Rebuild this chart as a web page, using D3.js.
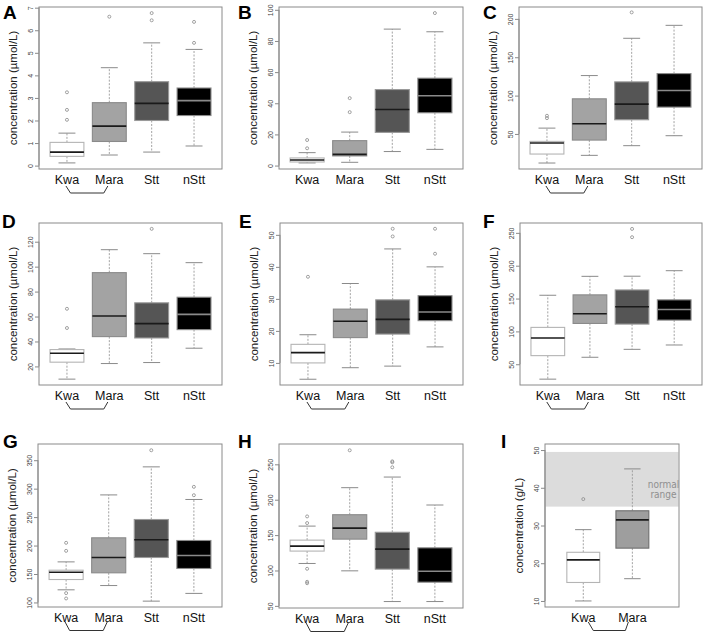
<!DOCTYPE html>
<html><head><meta charset="utf-8">
<script src="https://cdn.jsdelivr.net/npm/d3@7"></script>
<style>body{margin:0;background:#fff} svg{display:block;font-family:"Liberation Sans",Arial,sans-serif}</style>
</head><body><svg id="c" width="704" height="633"></svg>
<script>
const groups4 = ["Kwa", "Mara", "Stt", "nStt"];
const groups2 = ["Kwa", "Mara"];
// each box: [lower whisker, Q1, median, Q3, upper whisker]
const statsA = [[0.12,0.41,0.60,1.03,1.44],[0.47,1.07,1.75,2.79,4.34],[0.60,2.00,2.76,3.72,5.44],[0.87,2.22,2.88,3.44,5.15]];
const outA = [[2.03,2.47,3.25],[6.60],[6.44,6.76],[5.44,6.37]];
const statsB = [[1.7,2.3,3.6,4.9,8.3],[2.1,6.2,7.2,16,21.5],[9,21.3,36,48.8,87.6],[10.4,33.9,44.8,56.1,85.9]];
const outB = [[11.1,16.4],[34.3,43.3],[],[97.9]];
const statsC = [[12.1,23.8,38.1,40.3,57.6],[22.1,42,63.3,95.8,126.1],[34.7,68.5,88.9,117.9,174.7],[47.7,85,106.6,128.7,191.6]];
const outC = [[70.6,73.7],[],[208.5],[]];
const statsD = [[9.8,23.4,30.6,33.5,34],[22.3,43.9,60.4,95.2,113.6],[23.1,42.8,54.3,71,110.4],[34.6,49.5,61.7,75.5,103.2]];
const outD = [[50.8,66.2],[],[130.3],[]];
const statsE = [[4.9,10,13.2,15.8,18.8],[8.5,17.9,23,26.8,34.8],[9,19,23.6,29.7,45.6],[15,23.2,25.9,31,40]];
const outE = [[36.9],[],[49.5,51.9],[44.1,51.9]];
const statsF = [[27.3,63.1,89.9,106.1,155],[60.6,112.1,126.8,155.6,183.8],[72.7,111.1,137.4,163.1,184],[79.3,117.2,133.3,148,192.4]];
const outF = [[],[],[243.4,256],[]];
const statsG = [[122.2,140.3,153.2,156.7,171.3],[129.7,152.1,179,213.6,289],[102.3,179,210.1,245.8,338.3],[115.9,159.7,182.5,208.9,281]];
const outG = [[107,116.4,190.7,204.8],[],[367.5],[288.5,303.2]];
const statsH = [[109.9,127.4,134.4,142.9,162.7],[99.5,144.3,159.9,178.8,217],[56.1,101.9,130.2,154,232],[56.1,83.5,99,132,192.5]];
const outH = [[82,84,102.4,167,176.4],[269.8],[245.8,252.8,254.2],[]];
const statsI = [[10,14.9,20.9,22.9,28.9],[15.9,24,31.5,33.9,45]];
const outI = [[37],[]];
const normalRangeI = [35, 49.5];

const ticksA = [0,1,2,3,4,5,6,7];
const ticksB = [0,20,40,60,80,100];
const ticksC = [50,100,150,200];
const ticksD = [20,40,60,80,100,120];
const ticksE = [10,20,30,40,50];
const ticksF = [50,100,150,200,250];
const ticksG = [100,150,200,250,300,350];
const ticksH = [50,100,150,200,250];
const ticksI = [10,20,30,40,50];

const fills = ["#ffffff", "#a3a3a3", "#555555", "#000000"];
const borders = ["#b4b4b4", "#8a8a8a", "#9a9a9a", "#8a8a8a"];
const medians = ["#1a1a1a", "#1a1a1a", "#1a1a1a", "#8a8a8a"];

const panels = [
  {L:"A", lx:3, ly:19, x0:39, y0:7, w:183, h:162, g:groups4, s:statsA, o:outA, t:ticksA, dom:[-0.15,7.03], unit:"µmol/L", br:true},
  {L:"B", lx:238, ly:19, x0:279, y0:7, w:184, h:162, g:groups4, s:statsB, o:outB, t:ticksB, dom:[-2.2,101.8], unit:"µmol/L", br:false},
  {L:"C", lx:483, ly:19, x0:519, y0:7, w:183, h:162, g:groups4, s:statsC, o:outC, t:ticksC, dom:[4.3,215.5], unit:"µmol/L", br:true},
  {L:"D", lx:2, ly:228, x0:39, y0:223, w:183, h:162, g:groups4, s:statsD, o:outD, t:ticksD, dom:[5.1,135], unit:"µmol/L", br:true},
  {L:"E", lx:239, ly:228, x0:280, y0:223, w:183, h:162, g:groups4, s:statsE, o:outE, t:ticksE, dom:[3.1,53.7], unit:"µmol/L", br:true},
  {L:"F", lx:483, ly:228, x0:520, y0:223, w:182, h:162, g:groups4, s:statsF, o:outF, t:ticksF, dom:[18.4,265], unit:"µmol/L", br:true},
  {L:"G", lx:3, ly:448, x0:38, y0:444, w:184, h:163, g:groups4, s:statsG, o:outG, t:ticksG, dom:[92,378.5], unit:"µmol/L", br:true},
  {L:"H", lx:238, ly:448, x0:279, y0:444, w:184, h:164, g:groups4, s:statsH, o:outH, t:ticksH, dom:[47,278.7], unit:"µmol/L", br:true},
  {L:"I", lx:501, ly:448, x0:545, y0:444, w:134, h:163, g:groups2, s:statsI, o:outI, t:ticksI, dom:[8.4,51.6], unit:"g/L", br:true, xdom:[0.22,2.95], bw:0.67, nr:normalRangeI}
];

const svg = d3.select("#c");

panels.forEach(p => {
  const n = p.g.length;
  const x = d3.scaleLinear().domain(p.xdom || [0.5 - 0.04*n, n + 0.5 + 0.04*n]).range([p.x0, p.x0 + p.w]);
  const y = d3.scaleLinear().domain(p.dom).range([p.y0 + p.h, p.y0]);
  const bw = (p.bw || 0.8) * (x(2) - x(1));
  const G = svg.append("g");

  if (p.nr) {
    G.append("rect").attr("x", p.x0 + 0.5).attr("width", p.w - 1)
      .attr("y", y(p.nr[1])).attr("height", y(p.nr[0]) - y(p.nr[1])).attr("fill", "#dcdcdc");
    const tx = p.x0 + p.w - 15.5;
    const font = "'Liberation Sans Narrow','DejaVu Sans Condensed',sans-serif";
    G.append("text").attr("x", tx).attr("y", y(p.nr[0]) - 18.5).attr("text-anchor", "middle")
      .attr("font-family", font).attr("font-stretch", "condensed")
      .attr("font-size", 10).attr("fill", "#8f8f8f").text("normal");
    G.append("text").attr("x", tx).attr("y", y(p.nr[0]) - 9).attr("text-anchor", "middle")
      .attr("font-family", font).attr("font-stretch", "condensed")
      .attr("font-size", 10).attr("fill", "#8f8f8f").text("range");
  }

  // panel letter
  svg.append("text").attr("x", p.lx).attr("y", p.ly).attr("font-size", 19).attr("font-weight", "bold")
    .attr("fill", "#000").text(p.L);

  // boxes
  p.s.forEach((st, i) => {
    const cx = x(i + 1);
    const [lo, q1, md, q3, hi] = st;
    const fill = (p.L === "I" && i === 1) ? "#9e9e9e" : fills[i];
    const bord = (p.L === "I" && i === 1) ? "#6e6e6e" : borders[i];
    G.append("line").attr("x1", cx).attr("x2", cx).attr("y1", y(q3)).attr("y2", y(hi))
      .attr("stroke", "#999").attr("stroke-dasharray", "2,1.5").attr("stroke-width", 0.9);
    G.append("line").attr("x1", cx).attr("x2", cx).attr("y1", y(q1)).attr("y2", y(lo))
      .attr("stroke", "#999").attr("stroke-dasharray", "2,1.5").attr("stroke-width", 0.9);
    [lo, hi].forEach(v => G.append("line").attr("x1", cx - bw/4).attr("x2", cx + bw/4)
      .attr("y1", y(v)).attr("y2", y(v)).attr("stroke", "#8a8a8a").attr("stroke-width", 1));
    G.append("rect").attr("x", cx - bw/2).attr("width", bw).attr("y", y(q3)).attr("height", y(q1) - y(q3))
      .attr("fill", fill).attr("stroke", bord).attr("stroke-width", 1.1);
    G.append("line").attr("x1", cx - bw/2).attr("x2", cx + bw/2).attr("y1", y(md)).attr("y2", y(md))
      .attr("stroke", medians[i]).attr("stroke-width", 1.6);
    p.o[i].forEach(v => G.append("circle").attr("cx", cx).attr("cy", y(v)).attr("r", 1.5)
      .attr("fill", "none").attr("stroke", "#8a8a8a").attr("stroke-width", 0.8));
    // category label
    G.append("text").attr("x", cx).attr("y", p.y0 + p.h + 14.5).attr("text-anchor", "middle")
      .attr("font-size", 12.5).attr("fill", "#111").text(p.g[i]);
  });

  // frame
  G.append("rect").attr("x", p.x0).attr("y", p.y0).attr("width", p.w).attr("height", p.h)
    .attr("fill", "none").attr("stroke", "#8a8a8a").attr("stroke-width", 1);

  // y axis
  const ax = G.append("g").attr("transform", `translate(${p.x0},0)`)
    .call(d3.axisLeft(y).tickValues(p.t).tickSize(4).tickFormat(d3.format("d")));
  ax.select(".domain").remove();
  ax.selectAll(".tick line").attr("stroke", "#8a8a8a");
  ax.selectAll(".tick text").attr("transform", "rotate(-90)").attr("x", 0).attr("y", -6.5).attr("dy", 0)
    .attr("text-anchor", "middle").attr("font-size", 7).attr("fill", "#444")
    .attr("font-family", "'Liberation Sans',Arial,sans-serif");
  G.append("line").attr("x1", p.x0).attr("x2", p.x0).attr("y1", y(p.t[0])).attr("y2", y(p.t[p.t.length-1]))
    .attr("stroke", "#8a8a8a");

  // y title
  G.append("text").attr("transform", `translate(${p.x0 - 22},${p.y0 + p.h/2}) rotate(-90)`)
    .attr("text-anchor", "middle").attr("font-size", 11.5).attr("fill", "#222")
    .text(`concentration (${p.unit})`);

  // bracket under Kwa and Mara
  if (p.br) {
    const row3 = p.y0 > 400;
    const yt = p.y0 + p.h + (row3 ? 15 : 17), yb = p.y0 + p.h + (row3 ? 23.5 : 24);
    const off = p.L === "I" ? [5, 10, -7, -4] : [-1, 3.5, -5.5, -1.5];
    const pts = [[x(1) + off[0], yt], [x(1) + off[1], yb], [x(2) + off[2], yb], [x(2) + off[3], yt]];
    G.append("path").attr("d", d3.line()(pts)).attr("fill", "none").attr("stroke", "#333").attr("stroke-width", 1);
  }
});
</script>
</body></html>
